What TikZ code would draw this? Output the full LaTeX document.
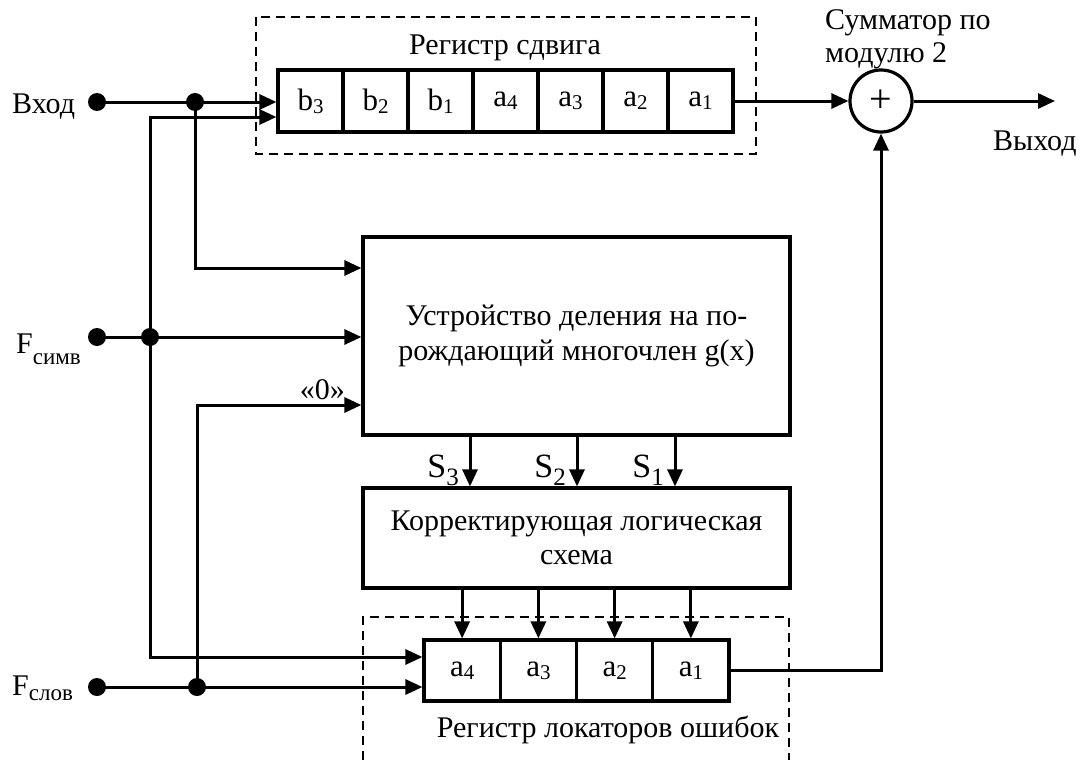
\documentclass[tikz,border=0pt]{standalone}
\usepackage{fontspec}
\setmainfont{Liberation Serif}
\usetikzlibrary{arrows.meta}
\newcommand\lowsub[2][3pt]{\raisebox{-#1}{\fontsize{21}{21}\selectfont #2}}
\begin{document}
\begin{tikzpicture}[x=1pt,y=-1pt,
  wire/.style={line width=3pt},
  tip/.tip={Triangle[length=17pt,width=15pt]},
  arr/.style={wire,-tip},
  cell/.style={draw,line width=3.2pt,minimum height=62pt,inner sep=0pt,font=\fontsize{31}{34}\selectfont},
  box/.style={draw,line width=3.2pt,inner sep=0pt,align=center,font=\fontsize{30}{34.5}\selectfont},
  frame/.style={line width=2.3pt,dash pattern=on 9pt off 6pt},
  dotn/.style={circle,fill,inner sep=0pt,minimum size=18pt},
  lbl/.style={inner sep=0pt,font=\fontsize{30}{34}\selectfont},
  slbl/.style={inner sep=0pt,font=\fontsize{34}{36}\selectfont}]
\useasboundingbox (0,0) rectangle (1086,760);

% frames
\draw[frame] (256,17) rectangle (756,154);
\draw[frame] (363,760) -- (363,617) -- (789,617) -- (789,760);

% shift register
\foreach \t [count=\i] in {b\lowsub{3},b\lowsub{2},b\lowsub{1},a\lowsub{4},a\lowsub{3},a\lowsub{2},a\lowsub{1}}
  \node[cell,minimum width=65pt] (r\i) at ({310.5+65*(\i-1)},101) {\t};
\node[lbl,anchor=base] (tsr) at (505,55) {Регистр сдвига};

% summator
\node[circle,draw,line width=3.2pt,minimum size=62pt,inner sep=0pt,font=\fontsize{40}{40}\selectfont] (sum) at (881,101) {+};
\node[lbl,anchor=base west] (ts1) at (825,30) {Сумматор по};
\node[lbl,anchor=base west] (ts2) at (825,63) {модулю 2};
\coordinate (out) at (1055,101);
\node[lbl,anchor=base west] (tout) at (993,150) {Выход};

% division box and correcting box
\node[box,minimum width=427pt,minimum height=198pt] (div) at (576.5,336)
  {Устройство деления на по-\\рождающий многочлен g(x)};
\node[box,minimum width=427pt,minimum height=100pt] (corr) at (576.5,538)
  {Корректирующая логическая\\схема};

% locator register
\foreach \t [count=\i] in {a\lowsub{4},a\lowsub{3},a\lowsub{2},a\lowsub{1}}
  \node[cell,minimum width=76.25pt,minimum height=61pt] (c\i) at ({424+76.25*(\i-0.5)},670.5) {\t};
\node[lbl,anchor=base] (tlr) at (608,737) {Регистр локаторов ошибок};

% inputs
\node[lbl,anchor=base west] (tin) at (12,113) {Вход};
\node[lbl,anchor=base west] (tfs) at (16,353) {F\lowsub[11pt]{\fontsize{23}{23}\selectfont симв}};
\node[lbl,anchor=base west] (tfl) at (12,695) {F\lowsub[5pt]{\fontsize{23}{23}\selectfont слов}};

\node[dotn] (vin) at (97,102) {};
\node[dotn] (j1) at (195,102) {};
\node[dotn] (fs) at (97,337) {};
\node[dotn] (j2) at (150,337) {};
\node[dotn] (fl) at (97,687) {};
\node[dotn] (j3) at (197,687) {};
\coordinate (k1) at (150,117);
\coordinate (k2) at (150,657);
\coordinate (k3) at (195,268);
\coordinate (k4) at (197,405);

\draw[arr] (vin.center) -- (r1.west |- vin);
\draw[wire,tip-tip] (r1.west |- k1) -- (k1) -- (k2) -- (c1.west |- k2);
\draw[arr] (j1.center) -- (k3) -- (div.west |- k3);
\draw[arr] (fs.center) -- (div.west |- fs);
\draw[arr] (j3.center) -- (k4) -- (div.west |- k4);
\node[lbl,anchor=base east] (t0) at (345,399) {«0»};
\draw[arr] (fl.center) -- (c1.west |- fl);

% syndrome arrows
\foreach \x/\n in {470/3,577/2,675/1}{
  \draw[arr] (div.south -| \x,0) -- (corr.north -| \x,0);
  \node[slbl,anchor=base east] at ({\x-11},477) {S\raisebox{-8pt}{\fontsize{25}{25}\selectfont\n}};
}
\foreach \i in {1,...,4}
  \draw[arr] (corr.south -| c\i) -- (c\i.north);

% outputs
\draw[arr] (r7.east) -- (sum.west);
\draw[arr] (sum.east) -- (out);
\draw[arr] (c4.east) -| (sum.south);
\end{tikzpicture}
\end{document}
